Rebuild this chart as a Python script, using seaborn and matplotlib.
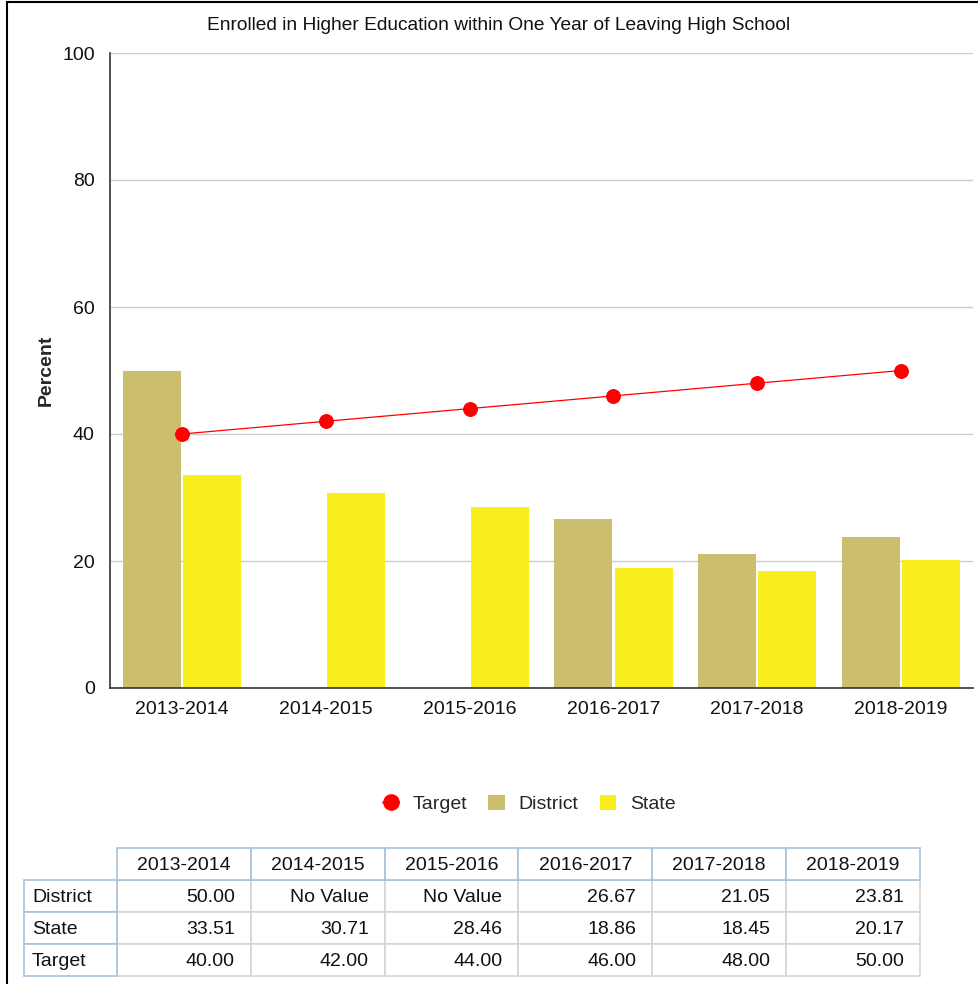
import numpy as np
import pandas as pd
import matplotlib
matplotlib.use("Agg")
import matplotlib.pyplot as plt
from matplotlib.lines import Line2D
from matplotlib.patches import Patch, Rectangle
import seaborn as sns

years = ["2013-2014", "2014-2015", "2015-2016", "2016-2017", "2017-2018", "2018-2019"]
district = [50.00, np.nan, np.nan, 26.67, 21.05, 23.81]
state = [33.51, 30.71, 28.46, 18.86, 18.45, 20.17]
target = [40.00, 42.00, 44.00, 46.00, 48.00, 50.00]
y_ticks = [0, 20, 40, 60, 80, 100]
title = "Enrolled in Higher Education within One Year of Leaving High School"

C_DISTRICT = "#CBBF6F"
C_STATE = "#F9EE1E"
C_TARGET = "#FF0000"
FS = 14

sns.set_theme(style="white")
plt.rcParams["font.family"] = ["Liberation Sans", "DejaVu Sans"]

W, H = 979, 984
fig = plt.figure(figsize=(W / 100, H / 100), dpi=100)

def fx(x):
    return x / W

def fy(y):
    return 1 - y / H

ax = fig.add_axes([fx(110), fy(688), fx(973) - fx(110), fy(53) - fy(688)])

bars = pd.DataFrame({
    "Year": years * 2,
    "Series": ["District"] * len(years) + ["State"] * len(years),
    "Value": district + state,
})
sns.barplot(data=bars, x="Year", y="Value", hue="Series", order=years,
            hue_order=["District", "State"],
            palette={"District": C_DISTRICT, "State": C_STATE},
            width=0.84, gap=0.04, errorbar=None, saturation=1,
            linewidth=0, legend=False, ax=ax)

tdf = pd.DataFrame({"Year": years, "Target": target})
sns.pointplot(data=tdf, x="Year", y="Target", order=years, color=C_TARGET,
              markers="o", markersize=10, linewidth=0.9, errorbar=None, ax=ax)

ax.set_ylim(0, 100)
ax.set_xlim(-0.5, len(years) - 0.5)
ax.set_yticks(y_ticks)
ax.set_yticklabels([str(t) for t in y_ticks], fontsize=FS, color="#111111")
ax.tick_params(axis="x", labelsize=FS, pad=9, length=0, colors="#111111")
ax.tick_params(axis="y", pad=11, length=0)
ax.yaxis.grid(True, color="#CCCCCC", linewidth=1)
ax.set_axisbelow(True)
ax.set_xlabel("")
ax.set_ylabel("Percent", fontsize=FS, fontweight="bold", labelpad=5)
for s in ["top", "right"]:
    ax.spines[s].set_visible(False)
for s in ["left", "bottom"]:
    ax.spines[s].set_color("#333333")
    ax.spines[s].set_linewidth(1.2)

fig.text(fx(499), fy(26), title, ha="center", va="center", fontsize=13.8, color="#111111")

handles = [
    Line2D([0], [0], color=C_TARGET, marker="o", markersize=11, linewidth=1),
    Patch(facecolor=C_DISTRICT, edgecolor="none"),
    Patch(facecolor=C_STATE, edgecolor="none"),
]
fig.legend(handles, ["Target", "District", "State"], loc="center",
           bbox_to_anchor=(fx(529), fy(804)), ncol=3, frameon=False,
           fontsize=FS, handlelength=0.85, handleheight=0.85, columnspacing=1.1,
           handletextpad=0.7)

# frame lines of the page
fig.add_artist(Line2D([fx(7), fx(7)], [fy(2), 0], color="black", linewidth=1.5))
fig.add_artist(Line2D([fx(7), 1], [fy(2), fy(2)], color="black", linewidth=1.5))

# data table
BLUE = "#A9C1DC"
GRAY = "#D4D4D4"
col_x = [117 + i * 133.83 for i in range(len(years) + 1)]
row_y = [848, 880, 912, 944, 976]
lab_x0 = 24
TOFF = 2

def cell(x0, y0, x1, y1, ec):
    fig.add_artist(Rectangle((fx(x0), fy(y1)), fx(x1) - fx(x0), fy(y0) - fy(y1),
                             facecolor="white", edgecolor=ec, linewidth=1.2,
                             transform=fig.transFigure))

rows = [("District", district), ("State", state), ("Target", target)]
for r, (name, vals) in enumerate(rows):
    y0, y1 = row_y[r + 1], row_y[r + 2]
    for c in range(len(years)):
        cell(col_x[c], y0, col_x[c + 1], y1, GRAY)
for r, (name, vals) in enumerate(rows):
    y0, y1 = row_y[r + 1], row_y[r + 2]
    cell(lab_x0, y0, col_x[0], y1, BLUE)
    fig.text(fx(lab_x0 + 8), fy((y0 + y1) / 2 + TOFF), name, ha="left", va="center",
             fontsize=FS, color="#111111")
    for c, v in enumerate(vals):
        txt = "No Value" if pd.isna(v) else f"{v:.2f}"
        fig.text(fx(col_x[c + 1] - 16), fy((y0 + y1) / 2 + TOFF), txt, ha="right",
                 va="center", fontsize=FS, color="#111111")
for c, yr in enumerate(years):
    cell(col_x[c], row_y[0], col_x[c + 1], row_y[1], BLUE)
    fig.text(fx((col_x[c] + col_x[c + 1]) / 2), fy((row_y[0] + row_y[1]) / 2 + TOFF), yr,
             ha="center", va="center", fontsize=FS, color="#111111")

fig.savefig("out.png", dpi=100, facecolor="white")
